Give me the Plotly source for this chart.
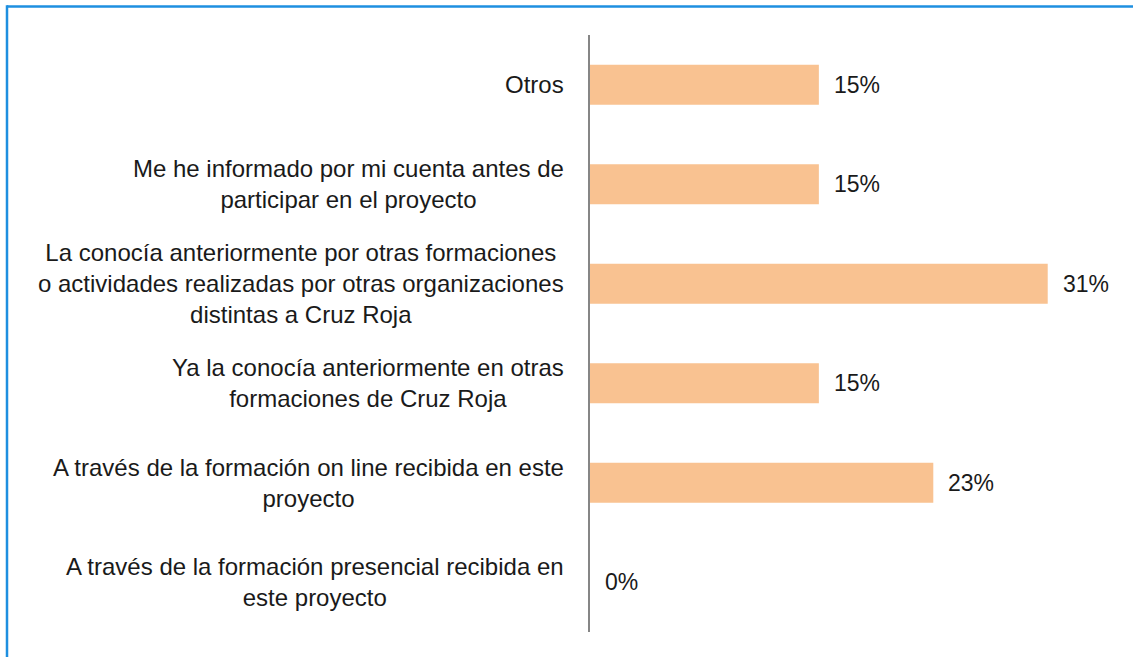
import plotly.graph_objects as go

categories = [
    "Otros",
    "Me he informado por mi cuenta antes de<br>participar en el proyecto",
    "La conocía anteriormente por otras formaciones<br>o actividades realizadas por otras organizaciones<br>distintas a Cruz Roja",
    "Ya la conocía anteriormente en otras<br>formaciones de Cruz Roja",
    "A través de la formación on line recibida en este<br>proyecto",
    "A través de la formación presencial recibida en<br>este proyecto",
]
values = [15.4, 15.4, 30.8, 15.4, 23.1, 0.0]
value_labels = ["15%", "15%", "31%", "15%", "23%", "0%"]

W, H = 1133, 657
ML, MR, MT, MB = 590, 8, 35, 25
FONT = "Liberation Sans, Arial, sans-serif"

fig = go.Figure(
    go.Bar(
        y=categories,
        x=values,
        orientation="h",
        marker=dict(color="#F9C291", line=dict(width=0)),
        width=0.4,
        hoverinfo="skip",
    )
)

annotations = []
for c in categories:
    annotations.append(
        dict(
            x=0, y=c, xref="x", yref="y", text=c, showarrow=False,
            xanchor="right", yanchor="middle", align="center", xshift=-24,
            font=dict(size=24, color="#1a1a1a", family=FONT),
        )
    )
for c, v, t in zip(categories, values, value_labels):
    annotations.append(
        dict(
            x=v, y=c, xref="x", yref="y", text=t, showarrow=False,
            xanchor="left", yanchor="middle", xshift=13,
            font=dict(size=23, color="#1a1a1a", family=FONT),
        )
    )

pw = W - ML - MR
ph = H - MT - MB
def px_x(p):
    return (p - ML) / pw
def px_y(p):
    return (H - MB - p) / ph

shapes = [
    dict(type="line", xref="paper", yref="paper", x0=px_x(7), x1=px_x(W + 10),
         y0=px_y(6.5), y1=px_y(6.5), line=dict(color="#1E8FE0", width=2.5)),
    dict(type="line", xref="paper", yref="paper", x0=px_x(7), x1=px_x(7),
         y0=px_y(5.3), y1=px_y(H + 10), line=dict(color="#1E8FE0", width=2.5)),
]

fig.update_layout(
    width=W, height=H,
    margin=dict(l=ML, r=MR, t=MT, b=MB),
    paper_bgcolor="white", plot_bgcolor="white",
    showlegend=False,
    annotations=annotations,
    shapes=shapes,
    xaxis=dict(range=[0, 36], visible=False, showgrid=False, zeroline=False),
    yaxis=dict(autorange="reversed", showticklabels=False, showgrid=False,
               zeroline=False, showline=True, linecolor="#868686", linewidth=1.5,
               ticks=""),
    font=dict(family=FONT),
)

fig.write_html(
    "out.html",
    config={"displayModeBar": False},
    post_script="document.body.style.margin='0';document.body.style.overflow='hidden';",
)
